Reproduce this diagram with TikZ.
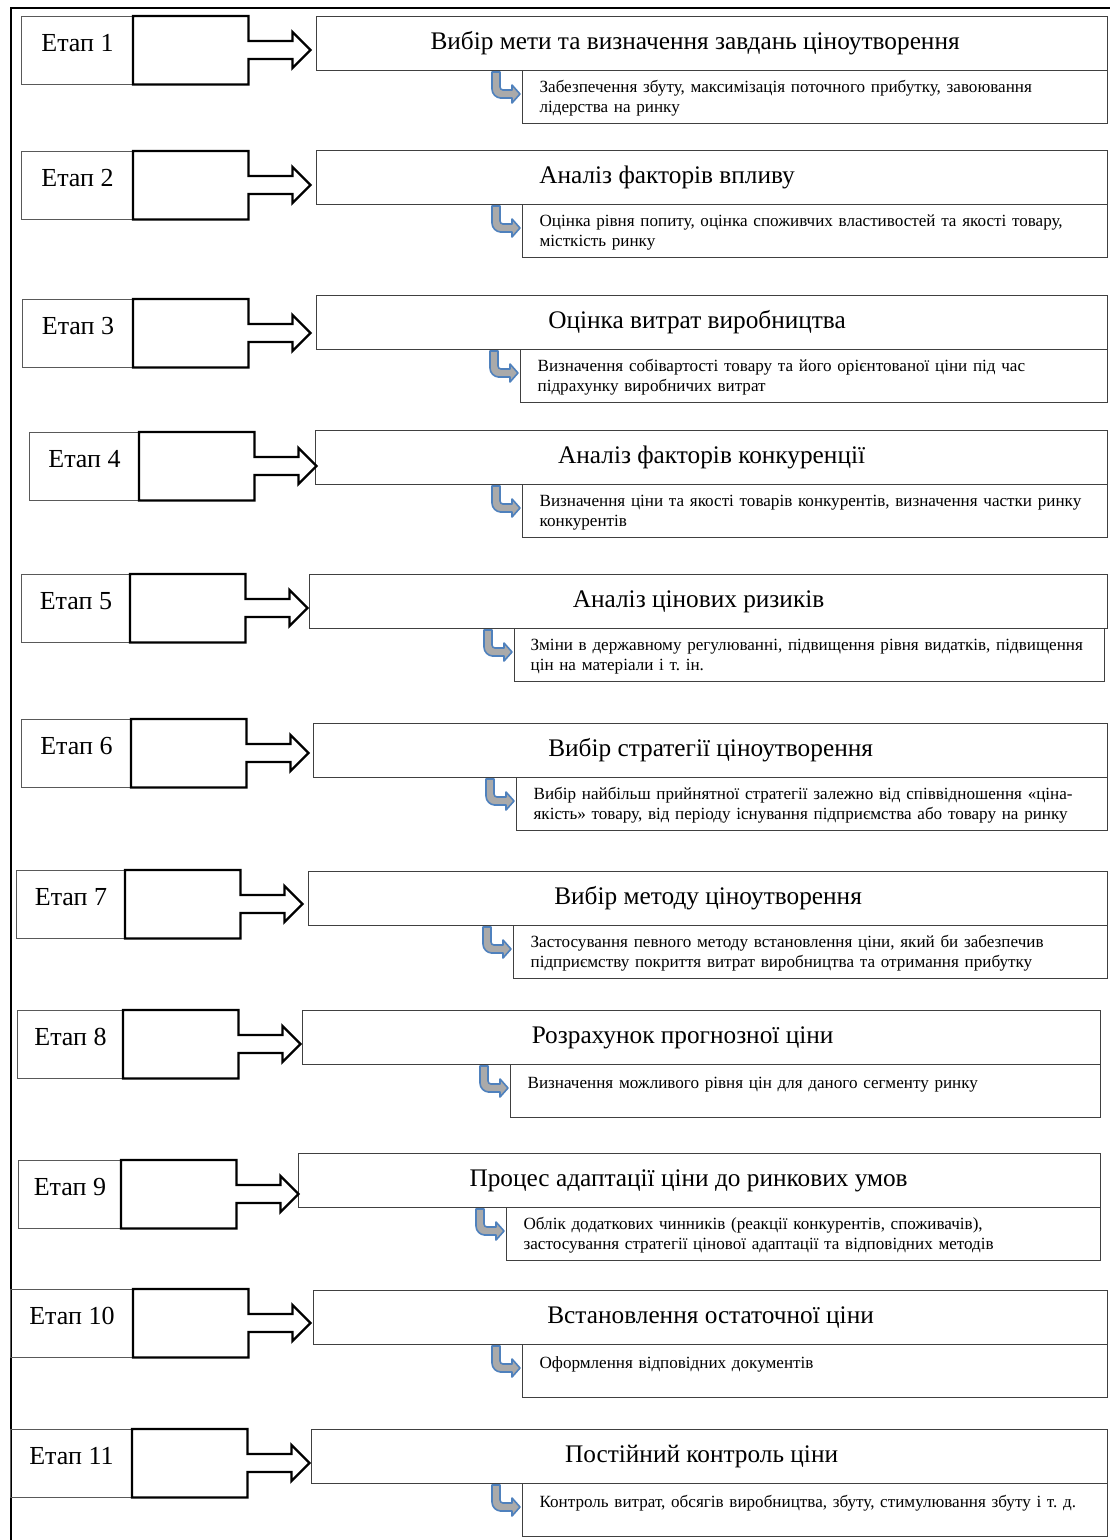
\documentclass[tikz,border=0pt]{standalone}
\usepackage{fontspec}
\setmainfont{Liberation Serif}
\frenchspacing
\definecolor{turnblue}{RGB}{79,129,189}
\definecolor{turngray}{RGB}{170,170,170}
\begin{document}
\begin{tikzpicture}[x=1pt, y=-1pt,
  etap/.style={draw=black!65, line width=0.9pt, anchor=north west, minimum height=68pt, text height=12pt, text depth=10pt, font=\fontsize{26}{30}\selectfont},
  blk/.style={anchor=north west, minimum width=115pt, minimum height=68pt, inner sep=0pt},
  bigarrow/.style={draw=black, line width=2.3pt, line join=miter},
  mainbox/.style={draw=black!75, line width=1.2pt, anchor=north west, minimum height=54pt, font=\fontsize{25.3}{30}\selectfont},
  subbox/.style={draw=black!75, line width=1.2pt, anchor=north west, minimum height=53pt, inner xsep=17pt, text height=15pt, align=left, font=\fontsize{17.1}{20}\selectfont},
  turn/.pic={\draw[turnblue, fill=turngray, line width=1.6pt, line join=round] (-30,2) -- (-22,2) [rounded corners=3pt] -- (-22,20) [sharp corners] -- (-10,20) -- (-10,15) -- (-2,24) -- (-10,33) -- (-10,28) -- (-22,28) [rounded corners=9pt] -- (-30,28) [sharp corners] -- cycle;}]
  \useasboundingbox (0,0) rectangle (1110,1540);
  \draw[line width=2.2pt] (1110,8) -- (11,8) -- (11,1540);

  \node[etap, minimum width=112pt] (e1) at (21,16) {Етап 1};
  \node[blk] (b1) at (133,16) {};
  \node[mainbox, minimum width=791pt] (m1) at (316,16) {Вибір мети та визначення завдань ціноутворення\hspace*{34pt}};
  \node[subbox, text width=551pt] (s1) at (522,70) {Забезпечення збуту, максимізація поточного прибутку, завоювання\\лідерства на ринку};
  \draw[bigarrow] (b1.north west) -- (b1.north east) -- ++(0,25) -- ++(44,0) -- ++(0,-9) -- ++(18,18) -- ++(-18,18) -- ++(0,-9) -- ++(-44,0) |- (b1.south west) -- cycle;
  \pic at (s1.north west) {turn};

  \node[etap, minimum width=112pt] (e2) at (21,151) {Етап 2};
  \node[blk] (b2) at (133,151) {};
  \node[mainbox, minimum width=791pt] (m2) at (316,150) {Аналіз факторів впливу\hspace*{90pt}};
  \node[subbox, text width=551pt] (s2) at (522,204) {Оцінка рівня попиту, оцінка споживчих властивостей та якості товару,\\місткість ринку};
  \draw[bigarrow] (b2.north west) -- (b2.north east) -- ++(0,25) -- ++(44,0) -- ++(0,-9) -- ++(18,18) -- ++(-18,18) -- ++(0,-9) -- ++(-44,0) |- (b2.south west) -- cycle;
  \pic at (s2.north west) {turn};

  \node[etap, minimum width=111pt] (e3) at (22,299) {Етап 3};
  \node[blk] (b3) at (133,299) {};
  \node[mainbox, minimum width=791pt] (m3) at (316,295) {Оцінка витрат виробництва\hspace*{30pt}};
  \node[subbox, text width=553pt] (s3) at (520,349) {Визначення собівартості товару та його орієнтованої ціни під час\\підрахунку виробничих витрат};
  \draw[bigarrow] (b3.north west) -- (b3.north east) -- ++(0,25) -- ++(44,0) -- ++(0,-9) -- ++(18,18) -- ++(-18,18) -- ++(0,-9) -- ++(-44,0) |- (b3.south west) -- cycle;
  \pic at (s3.north west) {turn};

  \node[etap, minimum width=110pt] (e4) at (29,432) {Етап 4};
  \node[blk] (b4) at (139,432) {};
  \node[mainbox, minimum width=792pt] (m4) at (315,430) {Аналіз факторів конкуренції};
  \node[subbox, text width=551pt] (s4) at (522,484) {Визначення ціни та якості товарів конкурентів, визначення частки ринку\\конкурентів};
  \draw[bigarrow] (b4.north west) -- (b4.north east) -- ++(0,25) -- ++(44,0) -- ++(0,-9) -- ++(18,18) -- ++(-18,18) -- ++(0,-9) -- ++(-44,0) |- (b4.south west) -- cycle;
  \pic at (s4.north west) {turn};

  \node[etap, minimum width=109pt] (e5) at (21,574) {Етап 5};
  \node[blk] (b5) at (130,574) {};
  \node[mainbox, minimum width=798pt] (m5) at (309,574) {Аналіз цінових ризиків\hspace*{20pt}};
  \node[subbox, text width=558pt, inner xsep=16pt] (s5) at (514,628) {Зміни в державному регулюванні, підвищення рівня видатків, підвищення\\цін на матеріали і т. ін.};
  \draw[bigarrow] (b5.north west) -- (b5.north east) -- ++(0,25) -- ++(44,0) -- ++(0,-9) -- ++(18,18) -- ++(-18,18) -- ++(0,-9) -- ++(-44,0) |- (b5.south west) -- cycle;
  \pic at (s5.north west) {turn};

  \node[etap, minimum width=110pt] (e6) at (21,719) {Етап 6};
  \node[blk] (b6) at (131,719) {};
  \node[mainbox, minimum width=794pt] (m6) at (313,723) {Вибір стратегії ціноутворення};
  \node[subbox, text width=557pt] (s6) at (516,777) {Вибір найбільш прийнятної стратегії залежно від співвідношення «ціна-\\якість» товару, від періоду існування підприємства або товару на ринку};
  \draw[bigarrow] (b6.north west) -- (b6.north east) -- ++(0,25) -- ++(44,0) -- ++(0,-9) -- ++(18,18) -- ++(-18,18) -- ++(0,-9) -- ++(-44,0) |- (b6.south west) -- cycle;
  \pic at (s6.north west) {turn};

  \node[etap, minimum width=109pt] (e7) at (16,870) {Етап 7};
  \node[blk] (b7) at (125,870) {};
  \node[mainbox, minimum width=799pt] (m7) at (308,871) {Вибір методу ціноутворення};
  \node[subbox, text width=560pt] (s7) at (513,925) {Застосування певного методу встановлення ціни, який би забезпечив\\підприємству покриття витрат виробництва та отримання прибутку};
  \draw[bigarrow] (b7.north west) -- (b7.north east) -- ++(0,25) -- ++(44,0) -- ++(0,-9) -- ++(18,18) -- ++(-18,18) -- ++(0,-9) -- ++(-44,0) |- (b7.south west) -- cycle;
  \pic at (s7.north west) {turn};

  \node[etap, minimum width=106pt] (e8) at (17,1010) {Етап 8};
  \node[blk] (b8) at (123,1010) {};
  \node[mainbox, minimum width=798pt] (m8) at (302,1010) {Розрахунок прогнозної ціни\hspace*{38pt}};
  \node[subbox, text width=556pt] (s8) at (510,1064) {Визначення можливого рівня цін для даного сегменту ринку\\~};
  \draw[bigarrow] (b8.north west) -- (b8.north east) -- ++(0,25) -- ++(44,0) -- ++(0,-9) -- ++(18,18) -- ++(-18,18) -- ++(0,-9) -- ++(-44,0) |- (b8.south west) -- cycle;
  \pic at (s8.north west) {turn};

  \node[etap, minimum width=103pt] (e9) at (18,1160) {Етап 9};
  \node[blk] (b9) at (121,1160) {};
  \node[mainbox, minimum width=802pt] (m9) at (298,1153) {Процес адаптації ціни до ринкових умов\hspace*{22pt}};
  \node[subbox, text width=560pt] (s9) at (506,1207) {Облік додаткових чинників (реакції конкурентів, споживачів),\\застосування стратегії цінової адаптації та відповідних методів};
  \draw[bigarrow] (b9.north west) -- (b9.north east) -- ++(0,25) -- ++(44,0) -- ++(0,-9) -- ++(18,18) -- ++(-18,18) -- ++(0,-9) -- ++(-44,0) |- (b9.south west) -- cycle;
  \pic at (s9.north west) {turn};

  \node[etap, minimum width=123pt] (e10) at (10,1289) {Етап 10};
  \node[blk] (b10) at (133,1289) {};
  \node[mainbox, minimum width=794pt] (m10) at (313,1290) {Встановлення остаточної ціни};
  \node[subbox, text width=551pt] (s10) at (522,1344) {Оформлення відповідних документів\\~};
  \draw[bigarrow] (b10.north west) -- (b10.north east) -- ++(0,25) -- ++(44,0) -- ++(0,-9) -- ++(18,18) -- ++(-18,18) -- ++(0,-9) -- ++(-44,0) |- (b10.south west) -- cycle;
  \pic at (s10.north west) {turn};

  \node[etap, minimum width=122pt] (e11) at (10,1429) {Етап 11};
  \node[blk] (b11) at (132,1429) {};
  \node[mainbox, minimum width=796pt] (m11) at (311,1429) {Постійний контроль ціни\hspace*{16pt}};
  \node[subbox, text width=551pt] (s11) at (522,1483) {Контроль витрат, обсягів виробництва, збуту, стимулювання збуту і т. д.\\~};
  \draw[bigarrow] (b11.north west) -- (b11.north east) -- ++(0,25) -- ++(44,0) -- ++(0,-9) -- ++(18,18) -- ++(-18,18) -- ++(0,-9) -- ++(-44,0) |- (b11.south west) -- cycle;
  \pic at (s11.north west) {turn};
\end{tikzpicture}
\end{document}
